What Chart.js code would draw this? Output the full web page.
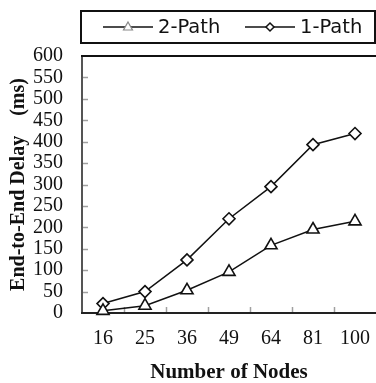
<!DOCTYPE html>
<html><head><meta charset="utf-8">
<script src="https://cdn.jsdelivr.net/npm/chart.js@4"></script>
<style>html,body{margin:0;padding:0;background:#fff}#wrap{width:376px;height:383px}</style>
</head><body><div id="wrap"><canvas id="c" width="376" height="383"></canvas></div>
<script>
const nodeCounts = ['16', '25', '36', '49', '64', '81', '100'];
const twoPath = [5, 17, 53, 96, 158, 195, 214];
const onePath = [22, 50, 124, 220, 295, 393, 419];
const seriesNames = ['2-Path', '1-Path'];
const yMin = 0, yMax = 600, yStep = 50;

const framePlugin = {
  id: 'frame',
  beforeDatasetsDraw(chart) {
    const {ctx, chartArea: a, scales: {x, y}} = chart;
    ctx.save();
    ctx.strokeStyle = '#a0a0a0';
    ctx.lineWidth = 1.5;
    y.ticks.forEach(t => {
      if (t.value <= yMin || t.value >= yMax) return;
      const py = Math.round(y.getPixelForValue(t.value)) + 0.5;
      ctx.beginPath(); ctx.moveTo(a.left, py); ctx.lineTo(a.left + 6, py); ctx.stroke();
    });
    for (let i = 0; i < nodeCounts.length - 1; i++) {
      const px = Math.round((x.getPixelForValue(i) + x.getPixelForValue(i + 1)) / 2) + 0.5;
      ctx.beginPath(); ctx.moveTo(px, a.bottom); ctx.lineTo(px, a.bottom - 6); ctx.stroke();
    }
    ctx.strokeStyle = '#555'; ctx.lineWidth = 2;
    ctx.beginPath(); ctx.moveTo(a.left, a.top); ctx.lineTo(a.left, a.bottom + 1); ctx.stroke();
    ctx.strokeStyle = '#222';
    ctx.beginPath(); ctx.moveTo(a.left - 1, a.bottom); ctx.lineTo(a.right, a.bottom); ctx.stroke();
    ctx.strokeStyle = '#111';
    ctx.beginPath(); ctx.moveTo(a.left - 1, a.top); ctx.lineTo(a.right, a.top); ctx.stroke();
    ctx.restore();
  },
  afterDraw(chart) {
    const ctx = chart.ctx;
    ctx.save();
    ctx.strokeStyle = '#111'; ctx.lineWidth = 2;
    ctx.strokeRect(81, 11, 294, 32);
    const items = [
      {x0: 103, label: chart.data.datasets[0].label, shape: 'tri'},
      {x0: 245, label: chart.data.datasets[1].label, shape: 'dia'}
    ];
    const ly = 27;
    items.forEach(it => {
      ctx.strokeStyle = '#111'; ctx.lineWidth = 1.3;
      ctx.beginPath(); ctx.moveTo(it.x0, ly); ctx.lineTo(it.x0 + 50, ly); ctx.stroke();
      const cx = it.x0 + 25;
      ctx.fillStyle = '#fff';
      ctx.beginPath();
      if (it.shape === 'tri') {
        ctx.strokeStyle = '#888'; ctx.lineWidth = 1.2;
        ctx.moveTo(cx, ly - 5); ctx.lineTo(cx + 4.5, ly + 3); ctx.lineTo(cx - 4.5, ly + 3); ctx.closePath();
      } else {
        ctx.strokeStyle = '#111'; ctx.lineWidth = 1.5;
        ctx.moveTo(cx, ly - 4); ctx.lineTo(cx + 4, ly); ctx.lineTo(cx, ly + 4); ctx.lineTo(cx - 4, ly); ctx.closePath();
      }
      ctx.fill(); ctx.stroke();
      ctx.fillStyle = '#111';
      ctx.font = '19.5px "DejaVu Sans"';
      ctx.textBaseline = 'middle';
      ctx.textAlign = 'left';
      ctx.fillText(it.label, it.x0 + 55, ly + 1);
    });
    ctx.restore();
  }
};

new Chart(document.getElementById('c'), {
  type: 'line',
  data: {
    labels: nodeCounts,
    datasets: [
      {label: seriesNames[0], data: twoPath, borderColor: '#111', borderWidth: 1.5,
       pointStyle: 'triangle', pointRadius: 7, pointBorderWidth: 1.6,
       pointBackgroundColor: '#fff', pointBorderColor: '#111', tension: 0, clip: false},
      {label: seriesNames[1], data: onePath, borderColor: '#111', borderWidth: 1.5,
       pointStyle: 'rectRot', pointRadius: 6, pointBorderWidth: 1.6,
       pointBackgroundColor: '#fff', pointBorderColor: '#111', tension: 0, clip: false}
    ]
  },
  options: {
    responsive: false,
    animation: false,
    layout: {autoPadding: false, padding: {top: 56, left: 0, right: 0, bottom: 0}},
    plugins: {legend: {display: false}, tooltip: {enabled: false}},
    scales: {
      x: {
        type: 'category', offset: true,
        grid: {display: false, drawTicks: false},
        border: {display: false},
        ticks: {color: '#111', padding: 16, font: {family: '"Liberation Serif"', size: 20, lineHeight: 1}, maxRotation: 0},
        title: {display: true, text: 'Number of Nodes', color: '#111',
                font: {family: '"Liberation Serif"', size: 21, weight: 'bold', lineHeight: 1}, padding: {top: 0, bottom: 0}},
        afterFit(s) { s.height = 70; s.paddingLeft = 0; s.paddingRight = 0; }
      },
      y: {
        min: yMin, max: yMax,
        grid: {display: false, drawTicks: false},
        border: {display: false},
        ticks: {stepSize: yStep, autoSkip: false, color: '#111', padding: 19,
                font: {family: '"Liberation Serif"', size: 20, lineHeight: 1}},
        title: {display: true, text: 'End-to-End Delay    (ms)', color: '#111',
                font: {family: '"Liberation Serif"', size: 20, weight: 'bold', lineHeight: 1}, padding: {top: 9, bottom: 0}},
        afterFit(s) { s.width = 82; }
      }
    }
  },
  plugins: [framePlugin]
});
</script>
</body></html>
